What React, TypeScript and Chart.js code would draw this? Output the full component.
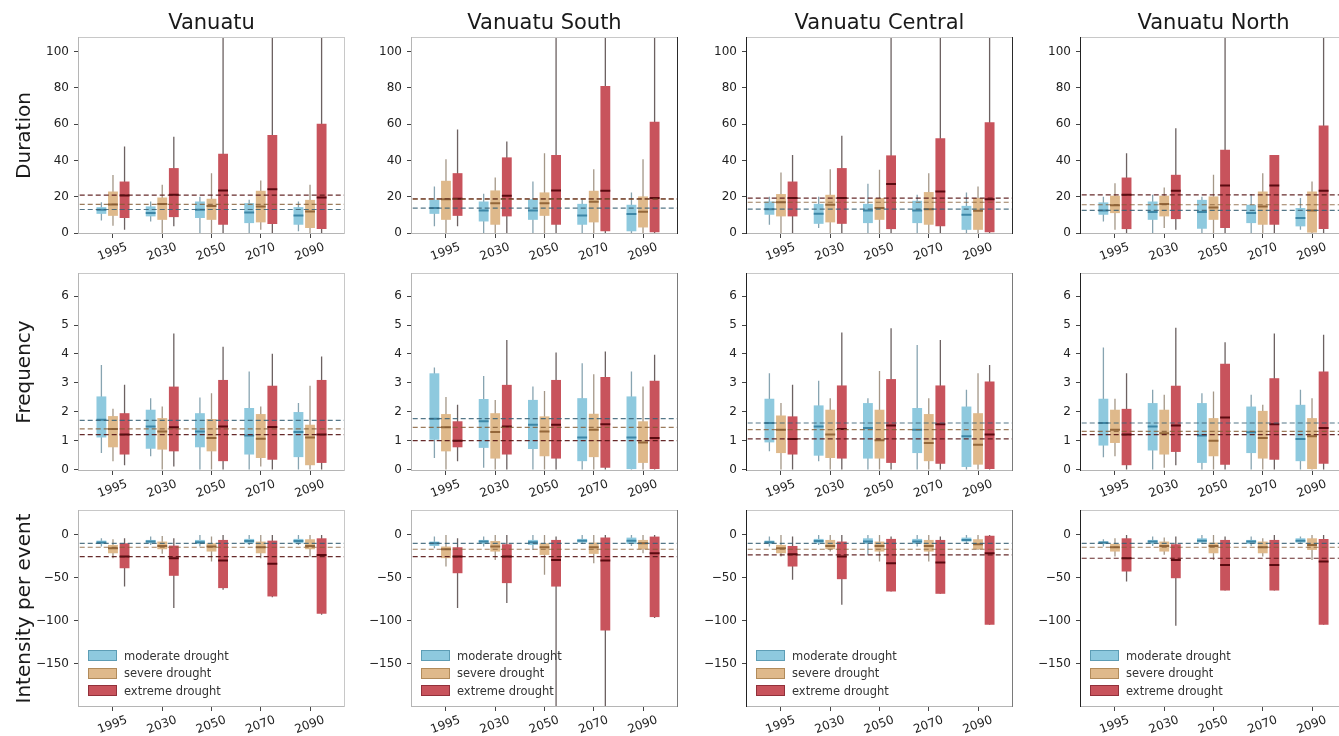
import React, { useEffect, useRef } from 'react';
import { Chart, registerables } from 'chart.js';

Chart.register(...registerables);

// ---------- labels ----------
const yearLabels = ['1995', '2030', '2050', '2070', '2090'];
const regionNames = ['Vanuatu', 'Vanuatu South', 'Vanuatu Central', 'Vanuatu North'];
const metricNames = ['Duration', 'Frequency', 'Intensity per event'];
const droughtNames = ['moderate drought', 'severe drought', 'extreme drought'];

// ---------- data: per panel, [moderate, severe, extreme], each 5 x [low whisker, q1, median, q3, high whisker] ----------
const durVanuatu = [
  [[7, 10.6, 12.8, 14.3, 17], [6.4, 9.2, 11, 14.7, 17.4], [0, 8.3, 12.8, 17.4, 20], [0, 5.5, 11.4, 16.5, 18.3], [1, 4.6, 9.7, 14.3, 17.4]],
  [[4, 9.5, 15.8, 22.9, 32], [0, 7.3, 16, 19.6, 26.6], [0, 7.3, 14.9, 18.9, 33], [1.8, 5.9, 14.7, 23.3, 29], [0, 2.8, 11.9, 18.3, 26.6]],
  [[1.8, 8.3, 20.7, 28.4, 47.7], [3.7, 8.8, 21.1, 35.8, 53], [0, 4.6, 23.5, 43.7, 115], [0, 5, 24.2, 54, 115], [0, 2.2, 19.6, 60.2, 115]],
];
const durSouth = [
  [[3.7, 10.6, 13.8, 18.3, 25.7], [0, 6.4, 12.5, 17.4, 21.6], [0, 7.3, 12.5, 18.7, 28.4], [0, 4.6, 9.7, 16.1, 18.7], [0, 1, 10.5, 15.6, 22.4]],
  [[0, 7.3, 18.7, 28.8, 40.7], [0, 4.6, 16.5, 23.5, 30.6], [0, 9.5, 16.5, 22.4, 44], [0, 5.9, 17.2, 23.3, 35.2], [0, 3.1, 11.7, 20.2, 40.7]],
  [[3.7, 9.5, 18.9, 33, 57], [0, 9.2, 20.6, 41.7, 50.5], [0, 4.6, 23.5, 43, 115], [0, 1, 23.3, 81, 115], [0, 0.4, 19.3, 61.3, 115]],
];
const durCentral = [
  [[4.6, 10.1, 13.2, 17.4, 20], [2.8, 5.1, 10.6, 16.1, 20], [0, 5.5, 12.5, 16.1, 27.2], [0, 5.5, 12.5, 17.8, 21.1], [0, 1.8, 10.1, 15, 22.4]],
  [[0, 9.2, 17, 21.5, 33.4], [0, 5.9, 15.6, 21.1, 35.2], [0, 7.3, 13.8, 19.3, 34.9], [0, 4.6, 13.2, 22.6, 33], [0, 1.8, 12.3, 19.3, 25.7]],
  [[0, 9.2, 19.3, 28.4, 43], [0, 5.1, 19.3, 35.8, 53.6], [0, 2.2, 27, 42.8, 115], [0, 3.7, 22.9, 52.3, 115], [0, 0.4, 18.7, 61, 115]],
];
const durNorth = [
  [[6.4, 10.1, 12.5, 16.9, 20], [0, 7.3, 11.6, 17.4, 21.1], [0, 2.4, 11.6, 18.3, 20], [0, 5.5, 11, 15.6, 21.5], [1.8, 3.7, 8.3, 13.8, 19.3]],
  [[1.8, 11, 15.4, 20.6, 27.5], [2.8, 9.2, 16, 20.6, 25.1], [0, 7.3, 14.1, 20.2, 32.1], [0, 4.6, 14.7, 22.9, 33], [0, 0, 12.5, 22.9, 28.4]],
  [[0, 2.2, 21.1, 30.6, 44], [1.8, 7.7, 23.3, 32.1, 57.8], [0, 2.8, 26.2, 45.9, 115], [0, 4.6, 26.2, 43, 43], [0, 2.2, 23.3, 59.3, 115]],
];

const freqVanuatu = [
  [[0.57, 1.11, 1.72, 2.53, 3.62], [0.46, 0.72, 1.49, 2.07, 2.47], [0, 0.77, 1.32, 1.95, 2.49], [0, 0.52, 1.18, 2.13, 3.39], [0, 0.43, 1.3, 1.99, 2.3]],
  [[0.29, 0.77, 1.4, 1.85, 2.1], [0, 0.69, 1.32, 1.78, 2.18], [0, 0.63, 1.09, 1.75, 2.64], [0.11, 0.4, 1.07, 1.92, 2.18], [0, 0.15, 1.11, 1.55, 2.9]],
  [[0.15, 0.52, 1.21, 1.95, 2.93], [0.11, 0.63, 1.46, 2.87, 4.71], [0, 0.29, 1.49, 3.1, 4.25], [0, 0.34, 1.47, 2.9, 4.01], [0, 0.23, 1.21, 3.1, 3.91]],
];
const freqSouth = [
  [[0.4, 1.03, 1.76, 3.33, 3.53], [0.06, 0.75, 1.67, 2.44, 3.24], [0, 0.71, 1.55, 2.41, 2.87], [0, 0.29, 1.11, 2.47, 3.68], [0, 0, 1.11, 2.53, 3.39]],
  [[0, 0.63, 1.46, 1.92, 2.51], [0, 0.38, 1.3, 1.95, 2.41], [0, 0.46, 1.32, 1.84, 2.72], [0, 0.43, 1.38, 1.93, 3.3], [0, 0.23, 0.94, 1.67, 2.87]],
  [[0.29, 0.77, 1.0, 1.67, 2.24], [0, 0.52, 1.49, 2.93, 4.48], [0, 0.38, 1.55, 3.1, 4.05], [0, 0.06, 1.57, 3.2, 4.08], [0, 0, 1.09, 3.07, 3.97]],
];
const freqCentral = [
  [[0.63, 0.94, 1.61, 2.45, 3.33], [0.29, 0.48, 1.49, 2.22, 3.07], [0, 0.38, 1.44, 2.3, 2.47], [0, 0.57, 1.38, 2.13, 4.31], [0, 0.09, 1.15, 2.18, 2.76]],
  [[0, 0.57, 1.38, 1.87, 2.3], [0, 0.4, 1.21, 2.07, 2.47], [0, 0.38, 1.01, 2.07, 3.41], [0, 0.29, 0.92, 1.92, 2.47], [0, 0.17, 0.86, 1.95, 3.33]],
  [[0, 0.52, 1.06, 1.84, 2.93], [0, 0.38, 1.4, 2.91, 4.74], [0, 0.23, 1.52, 3.13, 4.89], [0, 0.2, 1.57, 2.91, 4.48], [0, 0.02, 1.21, 3.05, 3.62]],
];
const freqNorth = [
  [[0.43, 0.83, 1.61, 2.45, 4.22], [0, 0.66, 1.49, 2.3, 2.76], [0, 0.23, 1.18, 2.3, 2.64], [0, 0.57, 1.29, 2.18, 2.59], [0, 0.29, 1.06, 2.24, 2.76]],
  [[0.46, 0.92, 1.38, 2.07, 2.45], [0.06, 0.52, 1.26, 2.07, 2.59], [0, 0.46, 1.0, 1.78, 2.7], [0, 0.38, 1.09, 2.03, 2.24], [0, 0, 1.15, 1.78, 2.47]],
  [[0, 0.15, 1.21, 2.1, 3.33], [0.15, 0.61, 1.52, 2.9, 4.91], [0, 0.17, 1.8, 3.66, 4.4], [0, 0.34, 1.57, 3.16, 4.71], [0, 0.2, 1.44, 3.39, 4.66]],
];

const intVanuatu = [
  [[-13.5, -10.4, -8.9, -6.6, -3.9], [-11.6, -9.7, -7.7, -5.8, -1.9], [-13.5, -10.4, -8.5, -5.8, 0], [-11.6, -9.7, -7, -4.6, 0], [-11.6, -9.7, -7, -4.6, 0]],
  [[-27, -21.3, -15.5, -11.6, -5], [-22, -16.6, -12.8, -7.7, -1.2], [-31, -19.3, -13.5, -9.7, -1.9], [-27, -21.3, -14.3, -7.7, 0], [-25.1, -16.6, -12.8, -5, 0]],
  [[-60, -38.7, -25.1, -9.7, -3.9], [-85, -47.5, -27.1, -12.4, -3.9], [-63.8, -61.8, -29.8, -5.8, 0], [-72.3, -71.5, -33.6, -6.6, 0], [-92.8, -91.6, -23.2, -3.9, 0]],
];
const intSouth = [
  [[-15.5, -12.8, -9.7, -7.7, -1.9], [-13.5, -10.4, -7.7, -5.8, -1.9], [-17.4, -11.6, -8.5, -5.8, 0], [-10.4, -8.9, -6.6, -4.6, 0], [-12.8, -10.4, -6.6, -3.1, 0]],
  [[-36.7, -27, -16.6, -13.5, 0], [-29, -19.3, -13.5, -7, 0], [-46.4, -23.2, -14.3, -9.7, 0], [-32.9, -22, -14.3, -8.9, 0], [-21.3, -16.6, -9.7, -5.8, 0]],
  [[-85, -44.5, -25.1, -14.3, -3.9], [-79, -56, -25.1, -10.8, 0], [-210, -60, -29, -5.8, -1.9], [-210, -111, -29.8, -3.1, 0], [-96.5, -95.5, -21.3, -1.9, 0]],
];
const intCentral = [
  [[-13.5, -10.4, -8.5, -6.6, -1.9], [-11.6, -9.7, -7, -4.6, 0], [-23, -10.4, -7.7, -3.9, 0], [-13.5, -10.4, -7.7, -4.6, 0], [-10.4, -7.7, -5.8, -3.1, 0]],
  [[-25, -21.3, -15.5, -11.6, 0], [-19.3, -16.6, -12.8, -5.8, 0], [-31, -19.3, -12.8, -7.7, 0], [-31, -19.3, -12.8, -5.8, 0], [-17.4, -16.6, -10.8, -5, 0]],
  [[-52, -36.7, -22.4, -12.8, -1.9], [-81, -51.4, -25.1, -7.7, 0], [-65.7, -65.7, -32.9, -4.6, -1.9], [-68.4, -68.4, -32.1, -5.8, -1.9], [-104.4, -104.4, -21.3, -0.8, 0]],
];
const intNorth = [
  [[-13.5, -10.4, -8.9, -7.7, -5], [-12.8, -10.4, -7.7, -5.8, -1.9], [-10.4, -8.9, -6.6, -3.9, 0], [-12.8, -10.4, -7.7, -5.8, -1.9], [-10.4, -8.9, -6.6, -3.9, -1.9]],
  [[-25, -19.3, -14.3, -10.4, -3.9], [-23, -19.3, -12.8, -7.7, -3.1], [-29, -21.3, -12.8, -8.9, 0], [-25, -21.3, -14.3, -7.7, -3.9], [-29, -17.4, -11.6, -3.9, 0]],
  [[-54, -42.5, -27.1, -3.9, 0], [-105.5, -50.3, -29, -10.8, -1.9], [-64.6, -64.6, -34.8, -5.8, -1.9], [-64.6, -64.6, -34.8, -5.8, 0], [-104.4, -104.4, -30.9, -4.6, 0]],
];

// baseline (1995 median) reference lines: [moderate, severe, extreme]
const refDuration = [[13, 15.8, 20.9], [13.8, 18.7, 18.9], [13.2, 17, 19.3], [12.5, 15.6, 21.1]];
const refFrequency = [[1.7, 1.41, 1.21], [1.76, 1.46, 1.0], [1.61, 1.38, 1.06], [1.61, 1.32, 1.21]];
const refIntensity = [[-9.7, -14.3, -25.1], [-9.7, -16.6, -25.1], [-9.7, -16.6, -23.2], [-9.7, -14.3, -27.1]];

// axis settings per row
const yRanges = [[-0.5, 108], [-0.05, 6.8], [-200, 29]];
const yTickValues = [[0, 20, 40, 60, 80, 100], [0, 1, 2, 3, 4, 5, 6], [-150, -100, -50, 0]];

const panelData = [
  [durVanuatu, durSouth, durCentral, durNorth],
  [freqVanuatu, freqSouth, freqCentral, freqNorth],
  [intVanuatu, intSouth, intCentral, intNorth],
];
const panelRefs = [refDuration, refFrequency, refIntensity];

// ---------- styling / layout ----------
const FONT = 'DejaVu Sans';
const BOX_COLORS = ['#8ec9de', '#dfb98b', '#c8535c'];
const BOX_EDGE = ['#5d9db5', '#b18b5b', '#92303a'];
const MEDIAN_COLORS = ['#3c86a6', '#94673a', '#5a0a10'];
const WHISKER_COLORS = ['rgba(70,115,135,0.65)', 'rgba(115,95,70,0.65)', 'rgba(45,30,30,0.7)'];
const REF_COLORS = ['rgba(55,95,115,0.85)', 'rgba(130,90,50,0.8)', 'rgba(85,20,20,0.9)'];
const OFFSETS = [-0.235, 0, 0.235];
const HALF_BOX = 0.1;

const AXIS_X = [78, 411, 746, 1080];
const PLOT_W = 267;
const PLOT_TOP = [37, 273, 510];
const PLOT_BOTTOM = [234, 471, 707];
const X_AXIS_H = 34;

const framePlugin = {
  id: 'frame',
  afterDatasetsDraw(chart: any, _args: any, opts: any) {
    const { ctx, chartArea } = chart;
    const { left, top, right, bottom } = chartArea;
    const seg = (x1: number, y1: number, x2: number, y2: number, c: string) => {
      ctx.beginPath();
      ctx.strokeStyle = c;
      ctx.lineWidth = 1;
      ctx.moveTo(x1, y1);
      ctx.lineTo(x2, y2);
      ctx.stroke();
    };
    ctx.save();
    seg(left, top + 0.5, right, top + 0.5, opts.top);
    seg(left, bottom - 0.5, right, bottom - 0.5, opts.bottom);
    seg(right - 0.5, top, right - 0.5, bottom, opts.right);
    seg(left + 0.5, top, left + 0.5, bottom, opts.left);
    ctx.restore();
  },
};

function buildDatasets(series: number[][][], refs: number[]) {
  const ds: any[] = [];
  series.forEach((s, k) => {
    const whisk: any[] = [];
    const med: any[] = [];
    s.forEach(([lo, , m, , hi], i) => {
      const x = i + OFFSETS[k];
      whisk.push({ x, y: lo }, { x, y: hi }, { x, y: null });
      med.push({ x: x - HALF_BOX, y: m }, { x: x + HALF_BOX, y: m }, { x, y: null });
    });
    ds.push({
      type: 'line', label: droughtNames[k] + ' whisker', data: whisk, borderColor: WHISKER_COLORS[k],
      borderWidth: 1.3, pointRadius: 0, spanGaps: false, order: 4,
    });
    ds.push({
      type: 'bar', label: droughtNames[k], data: s.map((t, i) => ({ x: i + OFFSETS[k], y: [t[1], t[3]] })),
      backgroundColor: BOX_COLORS[k], borderWidth: 0, grouped: false, barPercentage: 0.85, categoryPercentage: 1, order: 3,
    });
    ds.push({
      type: 'line', label: droughtNames[k] + ' median', data: med, borderColor: MEDIAN_COLORS[k],
      borderWidth: 2, pointRadius: 0, spanGaps: false, order: 2,
    });
  });
  refs.forEach((v, k) => {
    ds.push({
      type: 'line', label: droughtNames[k] + ' 1995', data: [{ x: -1, y: v }, { x: 6, y: v }],
      borderColor: REF_COLORS[k], borderWidth: 1.2, borderDash: [5, 3], pointRadius: 0, order: 1,
    });
  });
  return ds;
}

function Panel({ row, col }: { row: number; col: number }) {
  const ref = useRef<HTMLCanvasElement>(null);
  const yw = col === 0 ? 78 : 44;
  const tp = row === 0 ? 37 : 20;
  const plotH = PLOT_BOTTOM[row] - PLOT_TOP[row];
  const width = yw + PLOT_W + 6;
  const height = tp + plotH + X_AXIS_H;

  useEffect(() => {
    const darkLeft = col >= 2;
    const rightColor = col === 1 || col === 2 ? (row === 0 ? '#2a2a2a' : '#7a7a7a') : '#c8c8c8';
    const chart = new Chart(ref.current as HTMLCanvasElement, {
      type: 'bar',
      data: { datasets: buildDatasets(panelData[row][col], panelRefs[row][col]) } as any,
      plugins: [framePlugin],
      options: {
        responsive: false,
        animation: false,
        devicePixelRatio: 1,
        layout: { padding: { top: row === 0 ? 0 : tp, right: 6, left: 0, bottom: 0 } },
        plugins: {
          legend: { display: false },
          tooltip: { enabled: false },
          title: {
            display: row === 0,
            fullSize: false,
            text: regionNames[col],
            color: '#1a1a1a',
            font: { family: FONT, size: 21, weight: 'normal', lineHeight: 1.2 },
            padding: { top: 11, bottom: 0.8 },
          },
          frame: { top: '#c8c8c8', bottom: '#b5b5b5', left: darkLeft ? '#222' : '#b5b5b5', right: rightColor },
        } as any,
        scales: {
          x: {
            type: 'linear',
            offset: false,
            min: -0.71,
            max: 4.71,
            afterBuildTicks: (s: any) => { s.ticks = yearLabels.map((_, i) => ({ value: i })); },
            afterFit: (s: any) => { s.height = X_AXIS_H; },
            ticks: {
              autoSkip: false,
              minRotation: 20,
              maxRotation: 20,
              labelOffset: 14,
              padding: 2,
              color: '#222',
              font: { family: FONT, size: 12 },
              callback: (_v: any, i: number) => yearLabels[i],
            },
            grid: { display: true, offset: false, drawOnChartArea: false, drawTicks: true, tickLength: 4, color: '#444' },
            border: { display: false },
          },
          y: {
            type: 'linear',
            min: yRanges[row][0],
            max: yRanges[row][1],
            afterBuildTicks: (s: any) => { s.ticks = yTickValues[row].map((v) => ({ value: v })); },
            afterFit: (s: any) => { s.width = yw; },
            ticks: {
              padding: 5,
              color: '#222',
              font: { family: FONT, size: 12 },
              callback: (v: any) => (v < 0 ? '\u2212' + Math.abs(v) : String(v)),
            },
            title: {
              display: col === 0,
              text: metricNames[row],
              color: '#1a1a1a',
              font: { family: FONT, size: 20, lineHeight: 1.2 },
              padding: { top: 13, bottom: 0 },
            },
            grid: { display: true, drawOnChartArea: false, drawTicks: true, tickLength: 4, color: '#444' },
            border: { display: false },
          },
        },
      } as any,
    });
    return () => chart.destroy();
  }, [row, col]);

  return (
    <canvas
      ref={ref}
      width={width}
      height={height}
      style={{ position: 'absolute', left: AXIS_X[col] - yw, top: PLOT_TOP[row] - tp, width, height, display: 'block' }}
    />
  );
}

function Legend({ col }: { col: number }) {
  return (
    <div style={{ position: 'absolute', left: AXIS_X[col] + 10, top: 647, fontFamily: FONT, fontSize: 11.5, color: '#333' }}>
      {droughtNames.map((name, k) => (
        <div key={name} style={{ display: 'flex', alignItems: 'center', height: 17.5 }}>
          <div style={{ width: 27, height: 9, background: BOX_COLORS[k], border: `1px solid ${BOX_EDGE[k]}`, marginRight: 7 }} />
          <span>{name}</span>
        </div>
      ))}
    </div>
  );
}

export default function App() {
  const panels = [];
  for (let r = 0; r < 3; r++) for (let c = 0; c < 4; c++) panels.push(<Panel key={`${r}-${c}`} row={r} col={c} />);
  return (
    <div style={{ position: 'absolute', left: 0, top: 0, width: 1339, height: 736, overflow: 'hidden', background: '#fff' }}>
      {panels}
      {[0, 1, 2, 3].map((c) => <Legend key={c} col={c} />)}
    </div>
  );
}
